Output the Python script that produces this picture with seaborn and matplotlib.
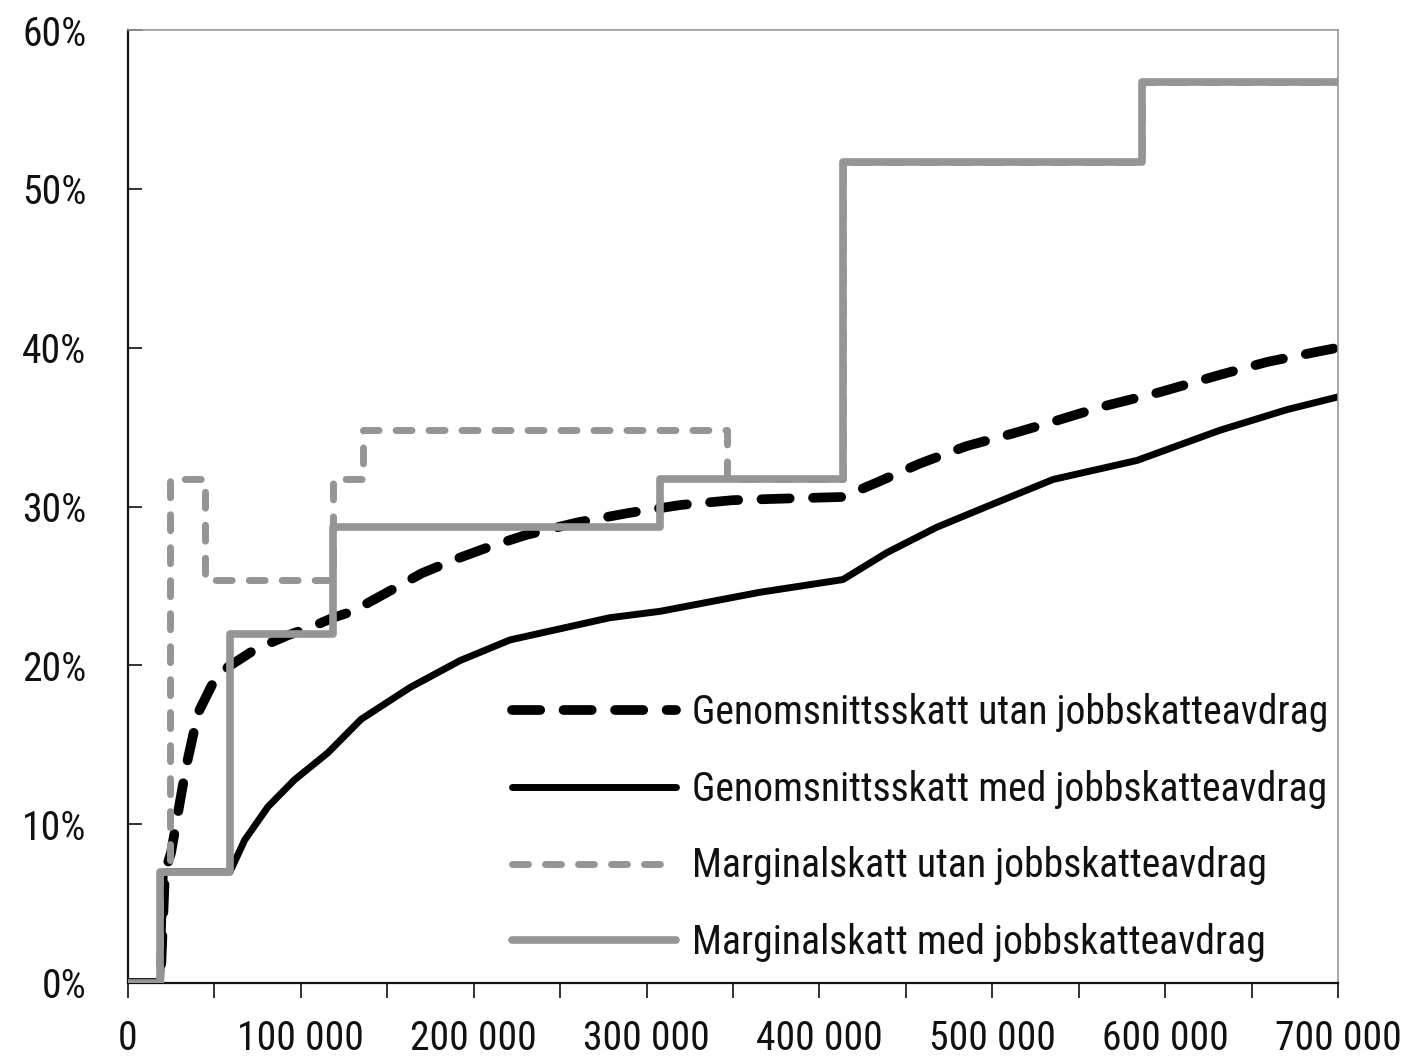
import matplotlib
matplotlib.use("Agg")
import matplotlib.pyplot as plt
from matplotlib import font_manager as fm
import numpy as np
import pandas as pd
import seaborn as sns
import os

# ---------------- data ----------------
# Genomsnittsskatt utan jobbskatteavdrag (black dashed)
avg_utan_x = [0, 18800, 21400, 24900, 28900, 33600, 40500, 49200, 57900, 73500,
              92600, 105900, 118600, 130000, 150000, 170000, 190000, 210000,
              230000, 260000, 290000, 320000, 350000, 380000, 413600, 433000,
              458000, 485000, 512000, 537000, 564000, 597000, 632000, 659000,
              686000, 700000]
avg_utan_y = [0, 0, 7.0, 8.2, 10.7, 13.6, 17.0, 18.9, 19.9, 21.0,
              21.9, 22.4, 23.0, 23.4, 24.6, 25.8, 26.7, 27.5,
              28.2, 29.0, 29.6, 30.1, 30.4, 30.5, 30.6, 31.5,
              32.7, 33.8, 34.6, 35.4, 36.3, 37.2, 38.3, 39.1,
              39.7, 40.0]

# Genomsnittsskatt med jobbskatteavdrag (black solid)
avg_med_x = [0, 18800, 21000, 59000, 67500, 81000, 96400, 115700, 134800,
             163100, 192100, 221000, 249900, 278800, 307800, 336700, 365600,
             413600, 439100, 468000, 496900, 535100, 583700, 631700, 670500,
             700000]
avg_med_y = [0, 0, 7.0, 7.0, 9.0, 11.1, 12.8, 14.5, 16.6,
             18.6, 20.3, 21.6, 22.3, 23.0, 23.4, 24.0, 24.6,
             25.4, 27.1, 28.7, 30.0, 31.7, 32.9, 34.8, 36.1,
             36.9]

# Marginalskatt utan jobbskatteavdrag (grey dashed, step)
marg_utan_x = [0, 18800, 24300, 44800, 118600, 136000, 346500, 413600, 586600, 700000]
marg_utan_y = [0, 7.0, 31.7, 25.4, 31.7, 34.8, 31.7, 51.7, 56.7, 56.7]

# Marginalskatt med jobbskatteavdrag (grey solid, step)
marg_med_x = [0, 18800, 59000, 118600, 307800, 413600, 586600, 700000]
marg_med_y = [0, 7.0, 22.0, 28.7, 31.7, 51.7, 56.7, 56.7]

series_labels = ["Genomsnittsskatt utan jobbskatteavdrag",
                 "Genomsnittsskatt med jobbskatteavdrag",
                 "Marginalskatt utan jobbskatteavdrag",
                 "Marginalskatt med jobbskatteavdrag"]

x_major = [0, 100000, 200000, 300000, 400000, 500000, 600000, 700000]
x_labels = ["0", "100 000", "200 000", "300 000", "400 000", "500 000",
            "600 000", "700 000"]
x_minor = [50000, 150000, 250000, 350000, 450000, 550000, 650000]
y_ticks = [0, 10, 20, 30, 40, 50, 60]
y_labels = ["0%", "10%", "20%", "30%", "40%", "50%", "60%"]

# ---------------- style ----------------
sns.set_style("white")

# find a narrow / condensed sans font among the installed ones
candidates = ["LiberationSansNarrow-Regular", "RobotoCondensed-Regular",
              "Roboto_Condensed-Regular", "OpenSans-CondensedRegular",
              "OpenSans_Condensed-Regular", "NotoSans-CondensedRegular",
              "NotoSansDisplay-CondensedRegular", "DejaVuSansCondensed."]
all_files = [f.fname for f in fm.fontManager.ttflist]
extra = fm.findSystemFonts()
all_files = list(dict.fromkeys(all_files + list(extra)))
chosen = None
for c in candidates:
    for fn in all_files:
        if c.lower() in os.path.basename(fn).lower():
            chosen = fn
            break
    if chosen:
        break

if chosen is not None:
    fprop = fm.FontProperties(fname=chosen)
    base = os.path.basename(chosen).lower()
    if "dejavu" in base:
        fs = 24
    elif "roboto" in base:
        fs = 28.5
    else:
        fs = 30
else:
    fprop = fm.FontProperties(family="DejaVu Sans")
    fs = 22
fprop.set_size(fs)
plt.rcParams["legend.fontsize"] = fs

GREY = "#959595"
BLACK = "#000000"

fig = plt.figure(figsize=(14.08, 10.58), dpi=100)
ax = fig.add_axes([128 / 1408, 1 - 983 / 1058, 1210 / 1408, 953 / 1058])

df1 = pd.DataFrame({"x": avg_utan_x, "y": avg_utan_y})
df2 = pd.DataFrame({"x": avg_med_x, "y": avg_med_y})
df3 = pd.DataFrame({"x": marg_utan_x, "y": marg_utan_y})
df4 = pd.DataFrame({"x": marg_med_x, "y": marg_med_y})

sns.lineplot(data=df1, x="x", y="y", ax=ax, color=BLACK, linewidth=7,
             linestyle=(0, (2.9, 2.4)), dash_capstyle="round",
             errorbar=None, label=series_labels[0], zorder=2)
sns.lineplot(data=df2, x="x", y="y", ax=ax, color=BLACK, linewidth=5,
             solid_capstyle="round", errorbar=None,
             label=series_labels[1], zorder=2)
sns.lineplot(data=df3, x="x", y="y", ax=ax, color=GREY, linewidth=5,
             linestyle=(0, (2.3, 2.45)), dash_capstyle="round",
             drawstyle="steps-post", errorbar=None,
             label=series_labels[2], zorder=3)
sns.lineplot(data=df4, x="x", y="y", ax=ax, color=GREY, linewidth=5.5,
             solid_capstyle="round", drawstyle="steps-post", errorbar=None,
             label=series_labels[3], zorder=4)

ax.set_xlim(0, 700000)
ax.set_ylim(0, 60)
ax.set_xlabel("")
ax.set_ylabel("")

ax.set_xticks(x_major, labels=x_labels)
ax.set_xticks(x_minor, minor=True)
ax.set_yticks(y_ticks, labels=y_labels)

ax.tick_params(axis="x", which="both", direction="out", length=11, width=1.3,
               color="#222222", pad=15, labelcolor="#111111")
ax.tick_params(axis="y", which="both", direction="in", length=10, width=1.3,
               color="#222222", pad=30, labelcolor="#111111")
ax.tick_params(bottom=True, left=True, which="both")
ax.tick_params(axis="y", which="minor", left=False)
for lab in ax.get_xticklabels() + ax.get_yticklabels():
    lab.set_fontproperties(fprop)

for side in ["left", "bottom"]:
    ax.spines[side].set_color("#111111")
    ax.spines[side].set_linewidth(1.6)
for side in ["top", "right"]:
    ax.spines[side].set_visible(True)
    ax.spines[side].set_color("#999999")
    ax.spines[side].set_linewidth(1.2)

leg = ax.legend(loc="upper left", bbox_to_anchor=(0.317, 0.304),
                frameon=False, prop=fprop, handlelength=4.15,
                handletextpad=0.4, labelspacing=0.95, borderpad=0,
                borderaxespad=0)
for t in leg.get_texts():
    t.set_color("#111111")

fig.savefig("out.png", dpi=100)
